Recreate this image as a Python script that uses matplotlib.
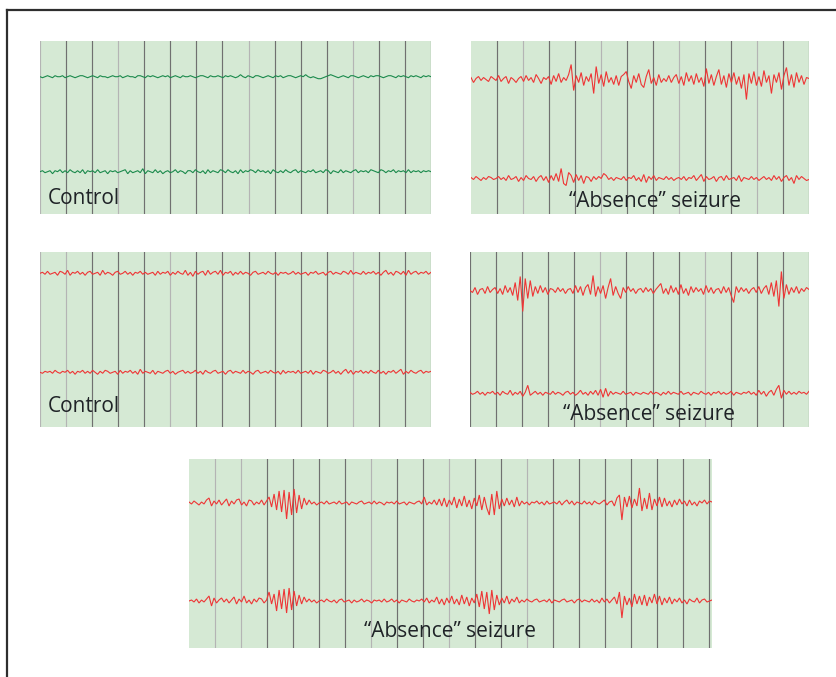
import numpy as np
import matplotlib
matplotlib.use("Agg")
import matplotlib.pyplot as plt
from matplotlib.lines import Line2D

plt.rcParams['font.family'] = ['Open Sans', 'DejaVu Sans']

W, H = 836, 677

# ---------------- data (deflections in px, up positive) ----------------
ctrl_green_top = [0,-1,0,1,0,-1,1,0,0,1, -1,0,1,0,-1,0,1,1,0,-1, 0,1,0,-1,1,0,0,-1,0,1,
                  0,0,1,-1,0,1,0,0,-1,1, 1,0,-1,1,0,1,0,-1,0,1, 0,1,-1,0,1,0,-1,1,0,0,
                  1,0,-1,0,1,1,0,-1,1,0, 0,1,0,-1,1,0,1,0,-1,0, 2,0,-1,1,0,-1,1,1,0,-1,
                  0,1,0,-1,1,0,1,-1,0,1, 1,0,-1,0,1,0,2,0,-1,0, -1,-2,-2,-1,0,1,2,1,0,-1,
                  0,1,0,-1,1,1,0,-1,0,1, 0,-1,1,0,1,1,0,-1,0,1, 1,0,-1,1,0,1,0,-1,1,0,
                  1,0,-1,1,0,1,0]
ctrl_green_bot = [0,1,-1,0,1,-2,1,0,2,-1, 1,-1,2,0,-1,1,-1,2,-2,1, 0,1,-1,2,-1,0,1,-2,1,0,
                  1,-1,0,1,2,-2,1,-1,0,1, -1,3,-2,1,0,-1,2,-1,1,-2, 0,1,-1,0,2,-1,1,0,-2,1,
                  1,-1,2,0,-1,1,-2,2,-1,1, 0,-1,2,1,-1,2,0,-1,1,-2, 2,-1,1,0,2,1,-1,2,0,1,
                  -1,1,-2,2,0,-1,1,-1,2,0, -1,1,2,-1,1,0,-1,1,0,2, -1,0,1,-1,2,1,-2,1,0,-1,
                  2,-1,1,0,-1,1,2,-1,1,0, 1,-1,2,1,0,-1,2,1,-1,1, 0,2,-1,1,0,1,-1,2,-1,1,
                  0,1,-1,1,0,1,0]
seiz1_top = [2,-3,1,3,-1,2,0,-2,3,1, -1,4,-2,1,3,-4,2,0,-3,1, 3,-2,4,-1,2,-3,5,1,-4,2,
             0,3,-5,4,-2,6,-3,2,-1,5, 15,-11,4,-3,7,-6,3,-2,6,-14, 13,-4,5,-7,8,-3,2,-5,4,-6,
             3,5,8,-2,-9,4,-3,6,-5,-8, 3,10,-4,2,-6,5,-3,1,-2,4, -3,2,5,-4,3,-6,7,-2,4,-5,
             6,-3,2,-7,11,-4,5,-6,3,10, -5,4,-8,6,-3,7,-5,3,-9,5, -20,6,-4,8,-6,3,-7,9,-3,4,
             -14,5,-3,7,-10,4,12,-6,5,-8, 7,-3,4,-5,2,1]
seiz1_bot = [1,-1,2,0,-2,1,-1,2,1,-1, 0,2,-1,1,-2,3,-1,0,2,-3, 1,-2,3,0,-1,2,-3,1,3,-2,
             2,-4,3,-2,5,-3,10,-5,-7,6, 3,-4,4,-2,3,-5,2,1,-3,2, -1,2,0,5,3,-1,1,-2,1,0,
             -1,2,-2,1,0,3,-2,1,-3,4, -4,2,-1,3,-2,1,0,-1,2,-1, 1,-2,0,1,-1,2,-2,1,0,3,
             -2,1,4,-3,2,-1,0,2,-3,1, 2,-2,3,-1,0,1,-2,3,-3,1, 0,-1,2,-1,1,-2,0,2,-1,1,
             -2,3,-1,2,-3,1,3,-2,1,-5, 3,-1,2,0,-2,-1]
ctrl_red_top = [0,1,-1,2,-1,0,1,-2,2,1, -1,3,-2,1,0,2,-1,1,-2,1, 2,-1,0,1,-2,3,-1,1,0,-2,
                1,2,-1,0,2,-1,1,-2,1,0, 2,-1,1,-1,0,1,-2,2,-1,1, 0,2,-2,1,-1,2,0,-1,3,-2,
                1,-3,2,-1,1,2,-2,3,-1,1, 2,-1,3,-2,1,0,2,-2,1,-1, 2,-1,1,0,-2,1,2,-1,0,1,
                -1,2,0,-1,1,-2,1,0,1,-1, 0,2,-1,1,-1,0,1,-2,1,0, 2,-1,0,1,-2,1,2,-1,1,0,
                -1,2,1,-1,3,-1,1,0,-1,2, -1,1,0,2,-1,1,-2,1,3,-1, 1,-2,2,1,-1,2,-2,3,-1,1,
                2,-1,1,0,2,-1,1]
ctrl_red_bot = [0,-1,1,0,1,-1,2,0,-1,1, 0,2,-1,1,-2,1,0,2,-1,1, -1,2,0,-2,1,-1,2,1,-1,0,
                1,-2,2,-1,1,0,2,-1,1,-2, 3,-1,1,0,-1,2,-2,1,0,-1, 1,2,-1,1,-2,0,1,2,-1,1,
                -1,0,2,-1,1,-2,2,0,-1,1, 2,-1,0,1,-2,1,2,-1,1,0, -1,2,-1,1,0,-2,1,2,-1,0,
                1,-1,2,0,-1,1,-2,2,-1,1, 0,1,-1,2,-1,0,1,-1,2,-2, 1,0,-1,2,1,-1,0,2,-1,1,
                -2,1,3,-1,2,-2,1,0,2,-1, 1,-1,2,0,-1,2,-1,1,-2,1, 0,2,-1,1,3,-2,1,-1,2,0,
                -1,1,2,-1,1,0,1]
seiz2_top = [0,-2,3,-4,1,2,-3,4,-2,1, 3,-3,2,-4,5,-2,3,-5,8,-10, 14,-21,12,-8,10,-6,4,-3,5,-2,
             3,-4,2,1,-2,3,-1,2,-3,1, 2,-3,5,-2,4,-5,3,6,-4,15, -6,4,-3,5,-8,3,12,-5,4,-3,
             -8,3,-2,4,-1,2,-3,1,2,-2, 3,-1,2,-3,1,4,7,-3,2,-4, 5,-2,3,-4,6,-3,2,-5,4,-2,
             3,-1,2,-4,5,-2,3,-3,1,2, -3,4,-2,3,-5,-12,4,-2,3,-1, 2,-3,1,3,-2,4,-3,2,5,-4,
             8,-6,10,-16,19,-8,6,-4,3,-2, 4,-3,2,-1,3,1]
seiz2_bot = [1,-1,0,2,-1,1,-2,1,0,2, -1,1,-2,2,0,-1,3,-2,1,-1, 2,-3,1,8,-2,0,2,-1,1,-2,
             1,0,-1,2,-1,1,0,-2,1,2, -1,1,-2,0,3,-1,1,-2,2,-1, 3,-2,4,-4,5,-3,2,-1,1,0,
             -1,2,-1,0,1,-2,1,0,-1,1, 0,-1,2,-1,1,0,-2,1,-1,2, -1,1,0,-1,2,-1,0,1,-2,1,
             0,-1,2,0,-1,1,-2,1,0,2, -1,1,-1,0,2,-2,1,0,-1,1, 0,2,-1,1,-2,3,-1,2,-3,1,
             3,-2,4,8,-5,3,-1,2,-1,1, -1,2,0,1,-1,2]
seiz3_top = [1,-1,2,0,-2,1,-1,3,5,-3, 2,-1,3,-2,1,4,-3,2,-1,3, 4,-2,1,-3,3,2,-2,1,-1,3,
             -2,2,6,-4,9,-7,12,-9,13,-16, 11,-12,14,-10,8,-6,5,-2,3,-1, 1,-2,0,1,-1,2,-1,0,1,-1,
             2,-1,0,1,-2,1,0,-1,1,2, -1,0,1,-1,2,-1,1,0,-2,1, 0,1,-1,2,-1,0,1,-2,1,0,
             -1,1,2,-1,6,-2,1,-1,3,-2, 4,-3,5,-4,3,-2,6,-5,4,-3, 7,-4,3,-6,5,-3,8,-7,6,-5,
             -12,9,-12,12,-6,4,-3,5,-2,3, -4,6,-3,2,-1,1,-2,1,0,2, -1,1,-2,2,-1,0,1,-1,2,-2,
             1,3,-1,2,-2,1,0,-1,2,-1, 1,-2,2,0,-1,1,3,-2,1,2, -3,5,8,-17,6,-4,7,-5,4,-3,
             15,-8,5,-6,10,-7,4,-3,6,-4, 5,-3,2,-4,3,-2,4,-1,2,-3, 3,-2,1,-3,2,0,3,-1,2,1]
seiz3_bot = [0,1,-1,2,-2,1,-1,2,5,-5, 3,-2,1,3,-1,2,-2,1,4,-3, 2,-1,5,-2,1,-3,2,-1,3,2,
             -2,1,9,-3,7,-10,11,-8,12,-12, 13,-9,10,-5,6,-3,4,-1,2,-1, 1,-2,0,1,-1,2,0,-1,1,-2,
             1,2,-1,0,1,-2,1,-1,0,2, -1,1,0,-2,1,0,1,-1,2,-1, 0,2,-1,1,-2,1,0,-1,2,0,
             -1,1,0,2,-1,3,-2,1,-1,4, -3,2,-4,3,-2,5,-3,2,-4,6, -3,4,-5,3,-2,7,-6,10,-8,9,
             -13,11,-9,6,-4,3,-2,5,-3,2, -1,4,-2,1,-1,2,0,-1,1,2, -1,0,1,-1,2,-2,1,0,-1,1,
             2,-1,0,1,-2,1,2,-1,1,0, -1,2,-1,1,-2,3,-1,2,-2,1, 4,-3,9,-17,5,-4,3,-6,7,-3,
             5,-4,6,-5,4,-2,7,-3,5,-4, 3,-2,4,-3,2,-1,3,-2,1,-3, 2,0,-1,3,-2,1,2,-1,0,1]

labels = ["Control", "\u201cAbsence\u201d seizure"]

GREEN = "#1b8a4c"
RED = "#ee3535"
BG = "#d5e9d4"
DARK = "#707070"
LIGHT = "#b4b4b4"
TEXT = "#1f2327"

fig = plt.figure(figsize=(W / 100, H / 100), dpi=100)

# outer frame (left + top edges)
fx = 6.5 / W
fy = 1 - 10 / H
fig.add_artist(Line2D([fx, fx], [0, fy], transform=fig.transFigure, color="#2e2e2e", lw=1.6))
fig.add_artist(Line2D([fx, 1], [fy, fy], transform=fig.transFigure, color="#2e2e2e", lw=1.6))


def panel(x0, y0, x1, y1, n_int, edge_line, light_idx, traces, color, label, label_pos, ha):
    ax = fig.add_axes([x0 / W, 1 - y1 / H, (x1 - x0) / W, (y1 - y0) / H])
    unit = (x1 - x0 - (0 if edge_line != 'extra' else 3)) / n_int
    xmax = (x1 - x0) / unit
    ax.set_xlim(0, xmax)
    ax.set_ylim(y1 - y0, 0)
    ax.set_facecolor(BG)
    for s in ax.spines.values():
        s.set_visible(False)
    ax.set_xticks([])
    ax.set_yticks([])
    start = 0 if edge_line in ('dark', 'light') else 1
    for k in range(start, n_int + 1):
        if k == 0:
            c = LIGHT if edge_line == 'light' else DARK
        else:
            c = LIGHT if k in light_idx else DARK
        ax.axvline(k, color=c, lw=0.85, zorder=1)
    for base, vals in traces:
        v = np.asarray(vals, dtype=float)
        xs = np.linspace(0, xmax, len(v))
        ax.plot(xs, (base - y0) - v, color=color, lw=0.8, zorder=3, solid_joinstyle='miter')
    ax.text(label_pos[0], label_pos[1], label, transform=fig.transFigure if False else None,
            fontsize=0) if False else None
    fig.text(label_pos[0] / W, 1 - label_pos[1] / H, label, fontsize=15, color=TEXT,
             ha=ha, va='baseline')
    return ax


panel(40, 41, 431, 214, 15, 'light', {3, 8, 12},
      [(76.7, ctrl_green_top), (171.7, ctrl_green_bot)], GREEN, labels[0], (48, 204), 'left')
panel(471, 41, 809, 214, 13, 'none', {2, 5, 8, 11},
      [(79.5, seiz1_top), (178.5, seiz1_bot)], RED, labels[1], (655, 207), 'center')
panel(40, 252, 431, 427, 15, 'light', {1, 5, 12},
      [(273.3, ctrl_red_top), (372.3, ctrl_red_bot)], RED, labels[0], (48, 412), 'left')
panel(470, 252, 809, 427, 13, 'dark', {5, 9},
      [(290.5, seiz2_top), (393.3, seiz2_bot)], RED, labels[1], (649, 420), 'center')
panel(189, 459, 712, 648, 20, 'extra', {1, 2, 7, 10, 13},
      [(503, seiz3_top), (601, seiz3_bot)], RED, labels[1], (450, 637), 'center')

fig.savefig("out.png", dpi=100, facecolor="white")
